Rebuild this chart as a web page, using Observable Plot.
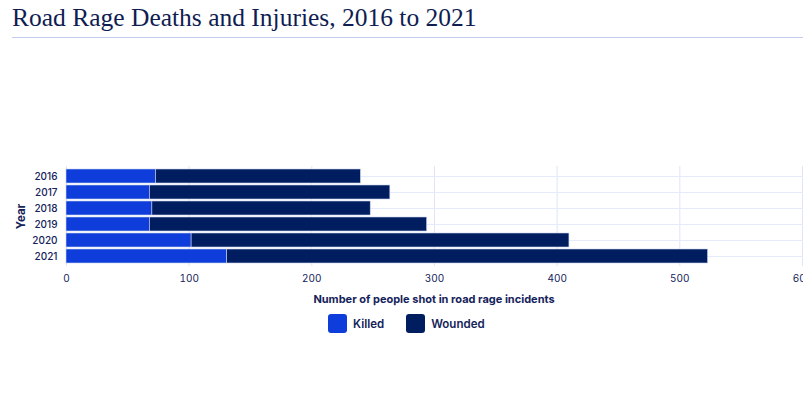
<!DOCTYPE html>
<html>
<head>
<meta charset="utf-8">
<script src="https://cdn.jsdelivr.net/npm/d3@7"></script>
<script src="https://cdn.jsdelivr.net/npm/@observablehq/plot@0.6"></script>
<style>
  html, body { margin: 0; padding: 0; background: #fff; overflow: hidden; }
  body { width: 803px; height: 408px; position: relative; font-family: Inter, "Noto Sans", sans-serif; color: #14235a; }
  #title { position: absolute; left: 12px; top: 3px; right: 0; height: 34px; border-bottom: 1px solid #c3cdf0;
           font-family: "Liberation Serif", serif; font-size: 25.5px; color: #0f1d52; line-height: 30px; }
  #chart { position: absolute; left: 0; top: 40px; }
  #xlabel { position: absolute; left: 66px; width: 736px; top: 292px; text-align: center; font-size: 11px; font-weight: 700; color: #14235a; }
  #legend { position: absolute; left: 328px; top: 314px; display: flex; font-size: 11.5px; font-weight: 600; color: #14235a; }
  .item { display: flex; align-items: center; }
  .sw { width: 19px; height: 19px; border-radius: 3px; margin-right: 6px; }
  .item + .item { margin-left: 22px; }
</style>
</head>
<body>
<div id="title">Road Rage Deaths and Injuries, 2016 to 2021</div>
<div id="chart"></div>
<div id="xlabel">Number of people shot in road rage incidents</div>
<div id="legend"></div>
<script>
const years = ["2016", "2017", "2018", "2019", "2020", "2021"];
const killed = [73, 68, 70, 68, 102, 131];
const wounded = [167, 196, 178, 226, 308, 392];
const seriesNames = ["Killed", "Wounded"];
const seriesColors = ["#0e3ddb", "#001d5f"];
const xTicks = [0, 100, 200, 300, 400, 500, 600];

const rows = [];
years.forEach((y, i) => rows.push({year: y, series: "Killed", value: killed[i]}));
years.forEach((y, i) => rows.push({year: y, series: "Wounded", value: wounded[i]}));

const plot = Plot.plot({
  width: 803,
  height: 248,
  marginTop: 126,
  marginBottom: 22,
  marginLeft: 66,
  marginRight: 1,
  style: {fontFamily: "Inter, 'Noto Sans', sans-serif", fontSize: "10px", color: "#14235a", overflow: "visible"},
  x: {domain: [0, 600], ticks: xTicks, label: null},
  y: {domain: years, padding: 0.15, label: "Year"},
  color: {domain: seriesNames, range: seriesColors},
  marks: [
    Plot.gridX(xTicks, {stroke: "#dfe5fa", strokeOpacity: 1}),
    Plot.gridY(years, {stroke: "#e6ebfb", strokeOpacity: 1}),
    Plot.barX(rows, Plot.stackX({x: "value", y: "year", fill: "series", stroke: "#c9d2f0", strokeWidth: 0.6})),
    Plot.axisX(xTicks, {tickSize: 0, tickPadding: 8, label: null, fontSize: 10, fill: "#14235a"}),
    Plot.axisY({tickSize: 0, tickPadding: 9, fontSize: 10, fontWeight: 500, fill: "#14235a",
                label: "Year", labelAnchor: "center", labelOffset: 50})
  ]
});
document.getElementById("chart").appendChild(plot);
d3.select(plot).selectAll("[aria-label='y-axis label'] text, [aria-label='y-axis label']")
  .style("font-weight", "700").style("font-size", "11.5px");

const legend = document.getElementById("legend");
seriesNames.forEach((n, i) => {
  const it = document.createElement("div");
  it.className = "item";
  it.innerHTML = `<div class="sw" style="background:${seriesColors[i]}"></div><span>${n}</span>`;
  legend.appendChild(it);
});
</script>
</body>
</html>
